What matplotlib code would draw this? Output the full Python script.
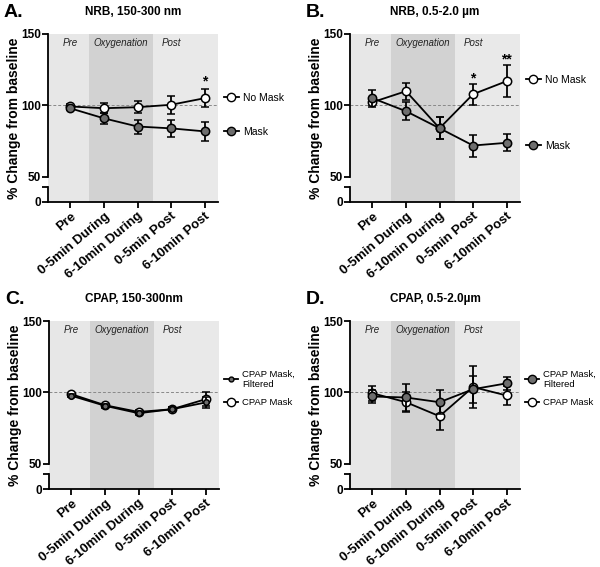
import numpy as np
import matplotlib.pyplot as plt
from matplotlib.lines import Line2D

plt.rcParams['font.family'] = ['Liberation Sans', 'DejaVu Sans']

# Données
timepoints = ["Pre", "0-5min During", "6-10min During", "0-5min Post", "6-10min Post"]

# A. NRB, 150-300 nm
a_nomask = [99.3, 98.1, 98.8, 100.5, 105.1]
a_nomask_err = [1.5, 3.6, 4.0, 6.3, 6.4]
a_mask = [98.0, 91.0, 85.3, 84.0, 81.9]
a_mask_err = [1.2, 3.8, 4.9, 6.2, 6.6]

# B. NRB, 0.5-2.0 µm
b_nomask = [102.3, 110.0, 84.1, 107.9, 117.0]
b_nomask_err = [2.0, 6.0, 7.5, 7.3, 11.2]
b_mask = [105.1, 96.0, 84.1, 72.0, 73.9]
b_mask_err = [6.0, 6.4, 7.7, 7.7, 6.0]

# C. CPAP, 150-300nm
c_filtered = [97.7, 90.7, 85.5, 88.3, 93.0]
c_filtered_err = [1.0, 1.2, 1.5, 1.5, 4.0]
c_mask = [98.8, 91.1, 86.4, 88.3, 95.3]
c_mask_err = [1.0, 1.0, 1.5, 1.5, 5.0]

# D. CPAP, 0.5-2.0µm
d_filtered = [97.2, 96.5, 93.2, 102.3, 106.4]
d_filtered_err = [4.5, 9.7, 8.2, 9.5, 4.6]
d_mask = [99.5, 93.2, 83.4, 103.8, 97.9]
d_mask_err = [5.2, 7.0, 9.4, 14.5, 6.5]

# étoiles de significativité : (index, hauteur, texte)
a_stars = [(4, 117, "*")]
b_stars = [(3, 119, "*"), (4, 132, "**")]

phases = ["Pre", "Oxygenation", "Post"]

# échelle y coupée : 0-50 compressé
K = 0.35
def fwd(y):
    y = np.asarray(y, dtype=float)
    return np.where(y >= 50, y, 50 - (50 - y) * K)
def inv(u):
    u = np.asarray(u, dtype=float)
    return np.where(u >= 50, u, 50 - (50 - u) / K)

fig = plt.figure(figsize=(6, 5.67), dpi=100)
W, H = 600, 567

def make_ax(left, top, bottom):
    return fig.add_axes([left / W, 1 - bottom / H, 170 / W, (bottom - top) / H])

def draw_panel(ax, title, letter, s1, e1, s2, e2, ms2=6):
    x = np.arange(len(timepoints))
    ax.set_yscale('function', functions=(fwd, inv))
    ax.set_xlim(-0.67, 4.4)
    ax.set_ylim(0, 150)
    # fond des phases
    ax.axvspan(-0.67, 0.55, color='#e7e7e7', lw=0, zorder=0)
    ax.axvspan(0.55, 2.47, color='#d2d2d2', lw=0, zorder=0)
    ax.axvspan(2.47, 4.4, color='#e9e9e9', lw=0, zorder=0)
    for xp, txt in zip([0, 1.5, 3], phases):
        ax.text(xp, 143.5, txt, style='italic', fontsize=7, ha='center', va='center',
                color='#222222')
    ax.axhline(100, color='#888888', ls=(0, (3, 2)), lw=0.7, zorder=1)

    ax.errorbar(x, s1, yerr=e1, fmt='-o', color='black', mfc='white', mec='black',
                ms=6, mew=1.1, lw=1.3, elinewidth=1.3, capsize=3, capthick=1.3, zorder=3)
    ax.errorbar(x, s2, yerr=e2, fmt='-o', color='black', mfc='#6e6e6e', mec='black',
                ms=ms2, mew=1.1, lw=1.3, elinewidth=1.3, capsize=3, capthick=1.3, zorder=4)

    # axes
    for s in ['top', 'right']:
        ax.spines[s].set_visible(False)
    ax.spines['left'].set_bounds(50, 150)
    ax.spines['left'].set_linewidth(1.3)
    ax.spines['bottom'].set_linewidth(1.3)
    ax.plot([0, 0], [0, 30], transform=ax.get_yaxis_transform(), color='black',
            lw=1.3, clip_on=False, zorder=5)
    ax.set_yticks([0, 50, 100, 150])
    ax.set_yticks([30], minor=True)
    ax.tick_params(axis='y', which='both', length=4, width=1.3, direction='out', pad=1)
    ax.tick_params(axis='y', which='minor', labelleft=False)
    ax.tick_params(axis='x', length=4, width=1.3, direction='out', pad=2)
    ax.set_xticks(x)
    ax.set_xticklabels(timepoints, rotation=40, ha='right', rotation_mode='anchor',
                       fontweight='bold', fontsize=9.5)
    for lbl in ax.get_yticklabels():
        lbl.set_fontweight('bold')
        lbl.set_fontsize(8.5)
    ax.set_ylabel("% Change from baseline", fontweight='bold', fontsize=10)
    ax.yaxis.set_label_coords(-0.16, 0.5)
    ax.set_title(title, fontweight='bold', fontsize=8.5, pad=14)
    ax.text(-0.26, 1.13, letter, transform=ax.transAxes, fontweight='bold', fontsize=14,
            ha='left', va='center')

def add_legend(ax, labels, ms_list, fills, leg_y, spacing, fs=7.5):
    hs = [Line2D([], [], color='black', lw=1.3, marker='o', mfc=f, mec='black', ms=m)
          for m, f in zip(ms_list, fills)]
    ax.legend(hs, labels, loc='center left', bbox_to_anchor=(0.99, leg_y),
              frameon=False, fontsize=fs, handlelength=1.45, handletextpad=0.45,
              labelspacing=spacing, borderaxespad=0.3)

axA = make_ax(48, 34, 202)
axB = make_ax(350, 34, 202)
axC = make_ax(49, 321, 489)
axD = make_ax(350, 321, 489)

draw_panel(axA, "NRB, 150-300 nm", "A.", a_nomask, a_nomask_err, a_mask, a_mask_err)
for i, yv, txt in a_stars:
    axA.text(i, yv, txt, ha='center', va='center', fontsize=10, fontweight='bold')
add_legend(axA, ["No Mask", "Mask"], [6, 6], ['white', '#6e6e6e'], 0.52, 2.3)

draw_panel(axB, "NRB, 0.5-2.0 µm", "B.", b_nomask, b_nomask_err, b_mask, b_mask_err)
for i, yv, txt in b_stars:
    axB.text(i, yv, txt, ha='center', va='center', fontsize=10, fontweight='bold')
add_legend(axB, ["No Mask", "Mask"], [6, 6], ['white', '#6e6e6e'], 0.53, 5.4)

draw_panel(axC, "CPAP, 150-300nm", "C.", c_mask, c_mask_err, c_filtered, c_filtered_err, ms2=4)
add_legend(axC, ["CPAP Mask,\nFiltered", "CPAP Mask"], [3.5, 6], ['#6e6e6e', 'white'],
           0.6, 0.95, fs=6.8)

draw_panel(axD, "CPAP, 0.5-2.0µm", "D.", d_mask, d_mask_err, d_filtered, d_filtered_err)
add_legend(axD, ["CPAP Mask,\nFiltered", "CPAP Mask"], [6, 6], ['#6e6e6e', 'white'],
           0.6, 0.95, fs=6.8)

fig.savefig("out.png", dpi=100)
